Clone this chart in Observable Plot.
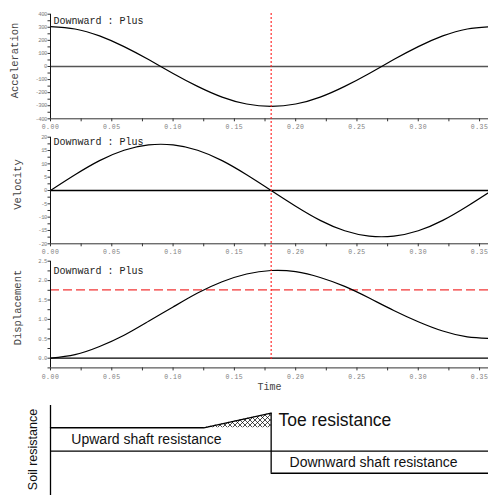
<!DOCTYPE html>
<html>
<head>
<meta charset="utf-8">
<script src="https://cdn.jsdelivr.net/npm/d3@7"></script>
<script src="https://cdn.jsdelivr.net/npm/@observablehq/plot@0.6"></script>
<style>
html, body { margin: 0; padding: 0; background: #fff; }
#chart { position: relative; width: 488px; height: 495px; overflow: hidden; background: #fff; }
#chart svg { position: absolute; left: 0; overflow: visible; background: transparent; }
.panel [aria-label^="x-axis"] text { font-size: 6.5px; letter-spacing: 0.5px; fill: #808080; }
.panel [aria-label^="y-axis"] text { font-size: 5.5px; letter-spacing: -0.4px; fill: #808080; }
.panel [aria-label^="x-axis"] path, .panel [aria-label^="x-axis"] line,
.panel [aria-label^="y-axis"] path, .panel [aria-label^="y-axis"] line { stroke: #333; }
</style>
</head>
<body>
<div id="chart"></div>
<script>
// ---- data ----
const time = [0, 0.02, 0.04, 0.06, 0.08, 0.10, 0.12, 0.14, 0.16, 0.18, 0.20, 0.22, 0.24, 0.26, 0.28, 0.30, 0.32, 0.34, 0.36];
const acceleration = [305, 287, 234, 152, 53, -53, -152, -234, -287, -305, -287, -234, -152, -53, 53, 152, 234, 287, 305];
const velocity = [0, 5.9, 11.2, 15.1, 17.1, 17.1, 15.1, 11.2, 5.9, 0, -5.9, -11.2, -15.1, -17.1, -17.1, -15.1, -11.2, -5.9, 0];
const displacement = [0, 0.09, 0.30, 0.59, 0.95, 1.32, 1.68, 1.97, 2.17, 2.26, 2.23, 2.08, 1.85, 1.55, 1.23, 0.94, 0.70, 0.55, 0.51];

const markerTime = 0.18;
const displacementRef = 1.76;

const xTicks = [0, 0.025, 0.05, 0.075, 0.10, 0.125, 0.15, 0.175, 0.20, 0.225, 0.25, 0.275, 0.30, 0.325, 0.35];
const accTicks = [-400, -350, -300, -250, -200, -150, -100, -50, 0, 50, 100, 150, 200, 250, 300, 350, 400];
const velTicks = [-20, -17.5, -15, -12.5, -10, -7.5, -5, -2.5, 0, 2.5, 5, 7.5, 10, 12.5, 15, 17.5, 20];
const dispTicks = [-0.25, 0, 0.25, 0.5, 0.75, 1.0, 1.25, 1.5, 1.75, 2.0, 2.25, 2.5];

// soil resistance schematic (time, relative resistance)
const upwardT = [0, 0.125, 0.18];
const upwardR = [1, 1, 1.62];
const toeT = [0.125, 0.18];
const toeLow = [1, 1];
const toeHigh = [1, 1.62];
const dividerR = [1.62, -0.94];
const downwardT = [0.18, 0.36];
const downwardR = [-0.94, -0.94];
const diagramLabels = ["Upward shaft resistance", "Toe resistance", "Downward shaft resistance"];
const diagramLabelT = [0.017, 0.186, 0.195];
const diagramLabelR = [0.5, 1.32, -0.47];
const diagramLabelSize = [14, 17.5, 14];

// ---- layout ----
const W = 488, ML = 50, XMAX = 0.3573;
const mono = "'Liberation Mono', 'DejaVu Sans Mono', monospace";
const sans = "'Liberation Sans', Arial, sans-serif";
const chart = document.getElementById("chart");

function fmtX(d) { return Math.round(d * 1000) % 50 === 0 ? d.toFixed(2) : ""; }

function panel(o) {
  const data = time.map((t, i) => ({t, v: o.series[i]}));
  const svg = Plot.plot({
    width: W, height: o.height,
    marginLeft: ML, marginRight: 0, marginTop: o.mTop, marginBottom: o.mBottom,
    style: {fontFamily: mono, color: "#808080", background: "transparent", overflow: "visible"},
    x: {domain: [0, XMAX], ticks: xTicks, tickFormat: fmtX, tickSize: 3, tickPadding: 3, label: null},
    y: {domain: o.yDomain, ticks: o.yTicks, tickFormat: o.yFormat, tickSize: 2.5, tickPadding: 1, label: null},
    marks: [
      Plot.ruleY([0], {stroke: o.zeroColor, strokeWidth: o.zeroWidth}),
      ...(o.extra || []),
      Plot.line(data, {x: "t", y: "v", curve: "natural", stroke: "black", strokeWidth: 1.2, clip: true}),
      Plot.ruleX([0], {stroke: "#111", strokeWidth: 1}),
      Plot.ruleY([o.yDomain[0]], {stroke: "#333", strokeWidth: 1}),
      Plot.text([o.label], {text: d => d, frameAnchor: "left", textAnchor: "middle", lineAnchor: "middle",
        dx: o.labelDx, dy: o.labelDy, rotate: -90, fontSize: 10.5, fill: "#444", fontFamily: mono}),
      Plot.text(["Downward : Plus"], {text: d => d, frameAnchor: "top-left", dx: 3, dy: o.noteDy,
        textAnchor: "start", lineAnchor: "middle", fontSize: 10, fill: "#222", fontFamily: mono}),
      ...(o.after || [])
    ]
  });
  svg.classList.add("panel");
  svg.style.top = o.top + "px";
  chart.appendChild(svg);
}

panel({
  top: 0, height: 130, mTop: 13.7, mBottom: 11.7,
  series: acceleration, yDomain: [-400, 400], yTicks: accTicks,
  yFormat: d => d % 100 === 0 ? String(d) : "",
  label: "Acceleration", labelDx: -36, labelDy: -6,
  noteDy: 6.3, zeroColor: "#555", zeroWidth: 1.6
});

panel({
  top: 125, height: 131, mTop: 11.7, mBottom: 12.7,
  series: velocity, yDomain: [-20, 20], yTicks: velTicks,
  yFormat: d => d % 5 === 0 ? String(d) : "",
  label: "Velocity", labelDx: -33, labelDy: -6,
  noteDy: 5, zeroColor: "#000", zeroWidth: 1.3
});

panel({
  top: 250, height: 145, mTop: 10.7, mBottom: 27.6,
  series: displacement, yDomain: [-0.25, 2.5], yTicks: dispTicks,
  yFormat: d => Math.round(d * 100) % 50 === 0 ? d.toFixed(1) : "",
  label: "Displacement", labelDx: -33, labelDy: -7,
  noteDy: 9.3, zeroColor: "#000", zeroWidth: 1.3,
  extra: [Plot.ruleY([displacementRef], {stroke: "#e00", strokeWidth: 1, strokeDasharray: "9,4"})],
  after: [Plot.text(["Time"], {text: d => d, frameAnchor: "bottom", dy: 21.6, fontSize: 10, fill: "#444", fontFamily: mono})]
});

// red marker line through all three panels
{
  const svg = Plot.plot({
    width: W, height: 347, marginLeft: ML, marginRight: 0, marginTop: 0, marginBottom: 0,
    style: {background: "transparent", overflow: "visible"},
    x: {domain: [0, XMAX], axis: null},
    marks: [Plot.ruleX([markerTime], {stroke: "#ff1a1a", strokeWidth: 1.1, strokeDasharray: "2,2"})]
  });
  svg.style.top = "13px";
  chart.appendChild(svg);
}

// soil resistance schematic
{
  const upward = upwardT.map((t, i) => ({t, r: upwardR[i]}));
  const toe = toeT.map((t, i) => ({t, lo: toeLow[i], hi: toeHigh[i]}));
  const down = downwardT.map((t, i) => ({t, r: downwardR[i]}));
  const labels = diagramLabels.map((s, i) => ({s, t: diagramLabelT[i], r: diagramLabelR[i], size: diagramLabelSize[i]}));
  const svg = Plot.plot({
    width: W, height: 100, marginLeft: ML, marginRight: 0, marginTop: 10, marginBottom: 0,
    style: {background: "transparent", overflow: "visible", fontFamily: sans},
    x: {domain: [0, XMAX], axis: null},
    y: {domain: [-1.89, 1.95], axis: null},
    marks: [
      Plot.areaY(toe, {x: "t", y1: "lo", y2: "hi", fill: "url(#xhatch)", clip: true}),
      Plot.ruleY([0], {stroke: "#000", strokeWidth: 1.3}),
      Plot.line(upward, {x: "t", y: "r", stroke: "#000", strokeWidth: 1.3}),
      Plot.ruleX([markerTime], {y1: dividerR[0], y2: dividerR[1], stroke: "#000", strokeWidth: 1.3}),
      Plot.line(down, {x: "t", y: "r", stroke: "#000", strokeWidth: 1.3, clip: true}),
      Plot.ruleX([0], {stroke: "#000", strokeWidth: 1.3}),
      Plot.text(labels.filter(d => d.size < 15), {x: "t", y: "r", text: "s", textAnchor: "start", lineAnchor: "middle", fontSize: 14, fill: "#111", fontFamily: sans}),
      Plot.text(labels.filter(d => d.size >= 15), {x: "t", y: "r", text: "s", textAnchor: "start", lineAnchor: "middle", fontSize: 17.5, fill: "#111", fontFamily: sans}),
      Plot.text(["Soil resistance"], {text: d => d, frameAnchor: "left", textAnchor: "middle", lineAnchor: "middle",
        dx: -18, dy: -1, rotate: -90, fontSize: 12.5, fill: "#111", fontFamily: sans})
    ]
  });
  const defs = d3.select(svg).insert("defs", ":first-child");
  const pat = defs.append("pattern").attr("id", "xhatch").attr("patternUnits", "userSpaceOnUse")
    .attr("width", 5).attr("height", 5);
  pat.append("path").attr("d", "M0,0L5,5M5,0L0,5M-1,4L1,6M4,-1L6,1").attr("stroke", "#000").attr("stroke-width", 0.7).attr("fill", "none");
  svg.style.top = "395px";
  chart.appendChild(svg);
}
</script>
</body>
</html>
